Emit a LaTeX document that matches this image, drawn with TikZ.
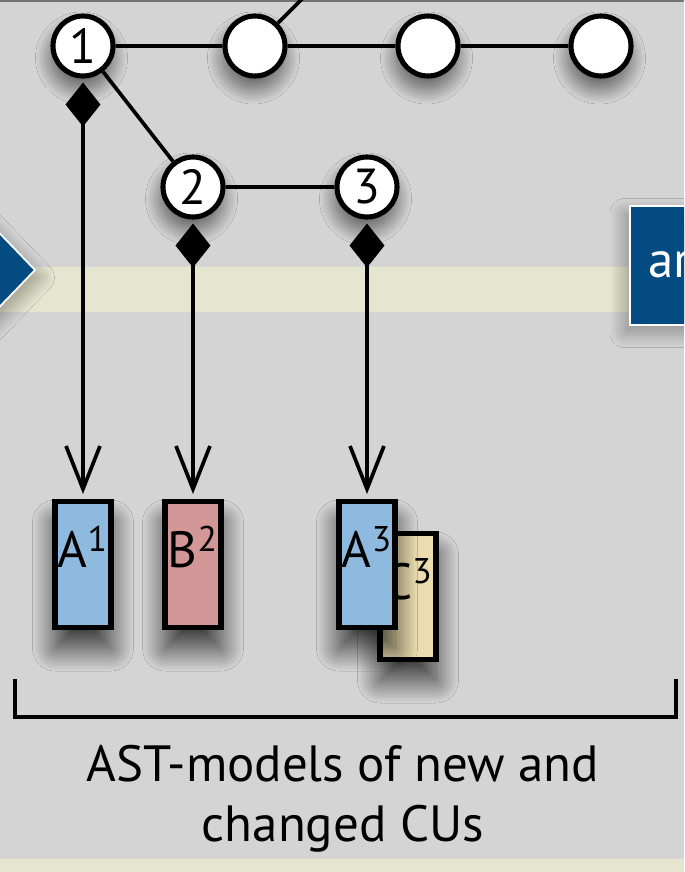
\documentclass[tikz,border=0pt]{standalone}
\usepackage{fontspec}
\setmainfont{PT Sans}
\usetikzlibrary{arrows.meta,shadows.blur}

\definecolor{panel}{HTML}{D4D4D4}
\definecolor{band}{HTML}{E6E5CF}
\definecolor{navy}{HTML}{034B80}
\definecolor{astblue}{HTML}{8FBADF}
\definecolor{astred}{HTML}{D29796}
\definecolor{astyellow}{HTML}{EBDDAF}

\begin{document}
\begin{tikzpicture}[x=0.02cm,y=-0.02cm,line width=2.1pt,
    vertex/.style={circle,draw,line width=2.9pt,fill=white,minimum size=1.2cm,
      inner sep=0pt,font=\fontsize{28}{28}\selectfont,
      blur shadow={shadow xshift=-0.03cm,shadow yshift=-0.24cm,shadow blur steps=40,
        shadow blur radius=0.32cm,shadow opacity=60}},
    ast/.style={draw,line width=2.9pt,minimum width=1.12cm,inner sep=0pt,
      text height=1.32cm,text depth=1.2cm,font=\fontsize{29}{29}\selectfont,
      blur shadow={shadow xshift=0cm,shadow yshift=-0.42cm,shadow blur steps=40,
        shadow blur radius=0.45cm,shadow opacity=75}},
    comp/.style={{Diamond[length=0.88cm,width=0.7cm,fill=black]}-{Straight Barb[length=0.86cm,width=0.68cm]},
      shorten <=0.08cm,shorten >=0.1cm}]

  \useasboundingbox (0,0) rectangle (684,872);
  \clip (0,0) rectangle (684,872);

  % backdrop
  \fill[panel] (0,0) rectangle (684,872);
  \fill[band] (0,267) rectangle (684,312);
  \fill[band] (0,859) rectangle (684,872);
  \fill[black!55] (0,0) rectangle (684,2.5);

  % neighbouring steps, cut by the frame
  \draw[draw=white,line width=1pt,fill=navy,
    blur shadow={shadow yshift=-0.15cm,shadow blur steps=30,shadow blur radius=0.3cm,shadow opacity=35}]
    (-90,140) -- (35,270) -- (-90,400) -- cycle;
  \node[text=white,font=\fontsize{29}{29}\selectfont,anchor=base east] (prev) at (4,282) {t};
  \draw[draw=white,line width=1pt,fill=navy,
    blur shadow={shadow xshift=-0.1cm,shadow yshift=-0.15cm,shadow blur steps=30,shadow blur radius=0.3cm,shadow opacity=35}]
    (630,206) rectangle (760,325);
  \node[text=white,font=\fontsize{29}{29}\selectfont,anchor=base west] (next) at (641,277) {ar};

  % version graph
  \node[vertex] (c1) at (83,46) {1};
  \node[vertex] (v2) at (255,46) {};
  \node[vertex] (v3) at (428,46) {};
  \node[vertex] (v4) at (601,46) {};
  \node[vertex] (c2) at (193,187) {2};
  \node[vertex] (c3) at (367,187) {3};
  \coordinate (up) at (345,-44);

  \draw (c1) -- (v2)
        (v2) -- (v3)
        (v3) -- (v4)
        (v2) -- (up)
        (c1) -- (c2)
        (c2) -- (c3);

  % AST models
  \node[ast,fill=astyellow,anchor=north] (c3b) at (408,531) {C\textsuperscript{3}};
  \node[ast,fill=astblue,anchor=north] (a1) at (83,499) {A\textsuperscript{1}};
  \node[ast,fill=astred,anchor=north] (b2) at (193,499) {B\textsuperscript{2}};
  \node[ast,fill=astblue,anchor=north] (a3) at (367,499) {A\textsuperscript{3}};

  \draw[comp] (c1) -- (a1);
  \draw[comp] (c2) -- (b2);
  \draw[comp] (c3) -- (a3);

  % bracket and caption
  \coordinate (bl) at (15,679);
  \coordinate (br) at (676,679);
  \draw (bl) -- (15,717) -- (676,717) -- (br);
  \node[align=center,font=\fontsize{29}{34}\selectfont] (cap) at (343,799)
    {AST-models of new and\\changed CUs};
\end{tikzpicture}
\end{document}
